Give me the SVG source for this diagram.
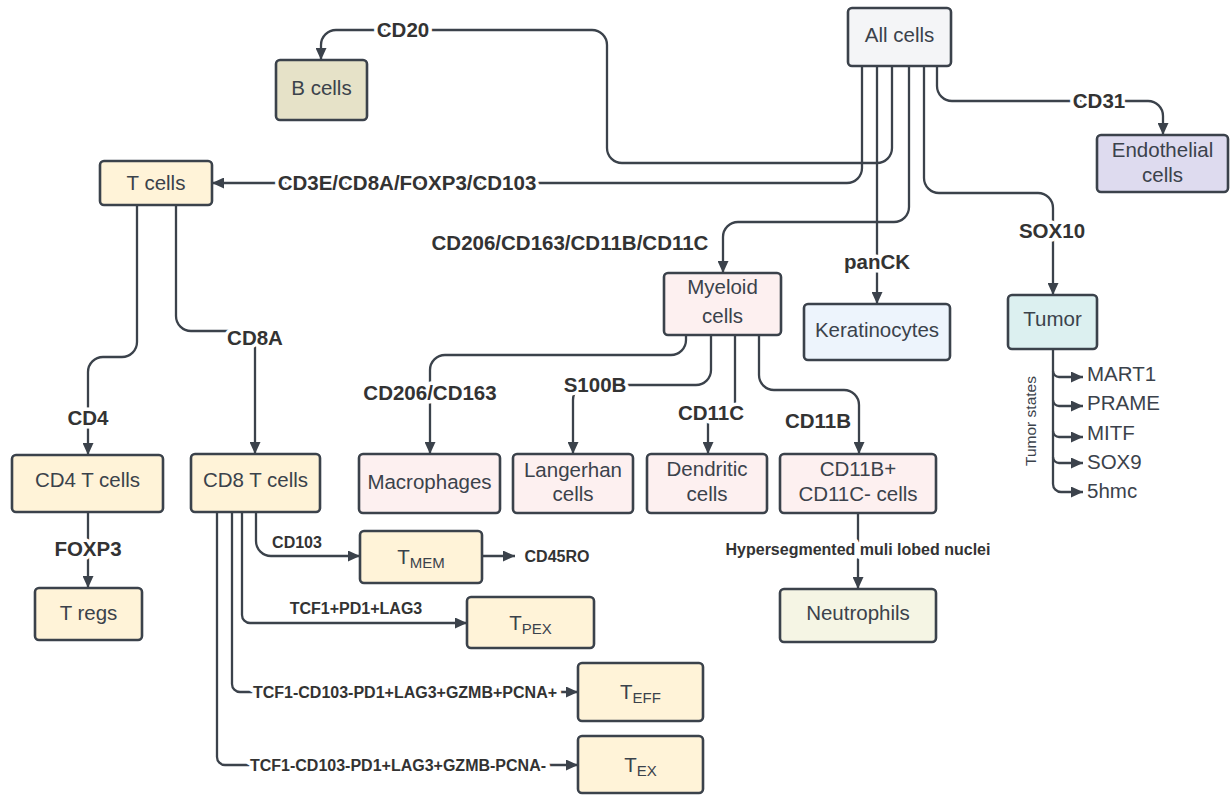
<svg xmlns="http://www.w3.org/2000/svg" width="1230" height="795" viewBox="0 0 1230 795">
<defs>
<marker id="ah" viewBox="0 0 12 11" refX="12" refY="5.5" markerWidth="12" markerHeight="11" markerUnits="userSpaceOnUse" orient="auto"><path d="M0,0 L12,5.5 L0,11 z" fill="#3b424b"/></marker>
<style>
.box{stroke:#3b424b;stroke-width:2.6}
.nt{font-family:"Liberation Sans",Arial,sans-serif;font-size:20.5px;fill:#3b424b;text-anchor:middle}
.lb{font-family:"Liberation Sans",Arial,sans-serif;font-size:20.5px;font-weight:bold;fill:#333;text-anchor:middle;stroke:#fff;stroke-width:7;paint-order:stroke;stroke-linejoin:round}
.ls{font-family:"Liberation Sans",Arial,sans-serif;font-size:16px;font-weight:bold;fill:#333;text-anchor:middle;stroke:#fff;stroke-width:9;paint-order:stroke;stroke-linejoin:round}
.c{fill:none;stroke:#3b424b;stroke-width:2.3}
.a{marker-end:url(#ah)}
.grey{fill:#f4f5f7}.beige{fill:#e6e2c8}.yel{fill:#fff3d8}.lav{fill:#dedbef}.pink{fill:#fdf0f0}.blue{fill:#edf4fc}.teal{fill:#dcf0f0}.grn{fill:#f5f5e4}
</style>
</defs>
<rect width="1230" height="795" fill="#fff"/>
<g id="connectors">
<path class="c a" d="M892,66 V148 A15,15 0 0 1 877,163 H622 A15,15 0 0 1 607,148 V45 A15,15 0 0 0 592,30 H336 A15,15 0 0 0 321,45 V60"/>
<path class="c a" d="M862,66 V168 A15,15 0 0 1 847,183 H212"/>
<path class="c a" d="M877,66 V304"/>
<path class="c a" d="M909,66 V207 A15,15 0 0 1 894,222 H738 A15,15 0 0 0 723,237 V273"/>
<path class="c a" d="M924,66 V178 A15,15 0 0 0 939,193 H1038 A15,15 0 0 1 1053,208 V295"/>
<path class="c a" d="M937,66 V86 A15,15 0 0 0 952,101 H1148 A15,15 0 0 1 1163,116 V135"/>
<path class="c a" d="M137,205 V342 A15,15 0 0 1 122,357 H103 A15,15 0 0 0 88,372 V455"/>
<path class="c a" d="M176,205 V316 A15,15 0 0 0 191,331 H240 A15,15 0 0 1 255,346 V454"/>
<path class="c a" d="M88,512 V588"/>
<path class="c a" d="M256,512 V541 A15,15 0 0 0 271,556 H360"/>
<path class="c a" d="M482,556 H515"/>
<path class="c a" d="M242,512 V615 A8,8 0 0 0 250,623 H467"/>
<path class="c a" d="M232,512 V684 A8,8 0 0 0 240,692 H578"/>
<path class="c a" d="M217,512 V757 A8,8 0 0 0 225,765 H578"/>
<path class="c a" d="M686,335 V340 A15,15 0 0 1 671,355 H445 A15,15 0 0 0 430,370 V454"/>
<path class="c a" d="M711,335 V370 A15,15 0 0 1 696,385 H588 A15,15 0 0 0 573,400 V454"/>
<path class="c a" d="M735,335 V408 H708 V454"/>
<path class="c a" d="M759,335 V375 A15,15 0 0 0 774,390 H844 A15,15 0 0 1 859,405 V454"/>
<path class="c a" d="M858,513 V589"/>
<path class="c" d="M1053,349 V484"/>
<path class="c a" d="M1053,484 A8,8 0 0 0 1061,492 H1083"/>
<path class="c a" d="M1053,371 A6,6 0 0 0 1059,377 H1083"/>
<path class="c a" d="M1053,400 A6,6 0 0 0 1059,406 H1083"/>
<path class="c a" d="M1053,431 A6,6 0 0 0 1059,437 H1083"/>
<path class="c a" d="M1053,457 A6,6 0 0 0 1059,463 H1083"/>
<text class="lb" x="403" y="37">CD20</text>
<text class="lb" x="407" y="190">CD3E/CD8A/FOXP3/CD103</text>
<text class="lb" x="570" y="250">CD206/CD163/CD11B/CD11C</text>
<text class="lb" x="877" y="269">panCK</text>
<text class="lb" x="1052" y="238">SOX10</text>
<text class="lb" x="1099" y="108">CD31</text>
<text class="lb" x="88" y="425">CD4</text>
<text class="lb" x="255" y="345">CD8A</text>
<text class="lb" x="88" y="556">FOXP3</text>
<text class="lb" x="430" y="400">CD206/CD163</text>
<text class="lb" x="595" y="392">S100B</text>
<text class="lb" x="711" y="420">CD11C</text>
<text class="lb" x="818" y="428">CD11B</text>
<text class="ls" x="297" y="548">CD103</text>
<text class="ls" x="557" y="562">CD45RO</text>
<text class="ls" x="356" y="614">TCF1+PD1+LAG3</text>
<text class="ls" x="405" y="698">TCF1-CD103-PD1+LAG3+GZMB+PCNA+</text>
<text class="ls" x="398" y="771">TCF1-CD103-PD1+LAG3+GZMB-PCNA-</text>
<text class="ls" x="858" y="555">Hypersegmented muli lobed nuclei</text>
<g font-family="Liberation Sans, Arial, sans-serif" font-size="20.5" fill="#3b424b">
<text x="1087" y="381">MART1</text>
<text x="1087" y="410">PRAME</text>
<text x="1087" y="440">MITF</text>
<text x="1087" y="469">SOX9</text>
<text x="1087" y="498">5hmc</text>
</g>
<text transform="translate(1036,421) rotate(-90)" font-family="Liberation Sans, Arial, sans-serif" font-size="15.5" fill="#3b424b" text-anchor="middle">Tumor states</text>
</g>
<g id="all-cells"><rect class="box grey" x="848" y="8" width="103" height="58" rx="4"/><text class="nt" x="899.5" y="42">All cells</text></g>
<g id="b-cells"><rect class="box beige" x="276" y="60" width="91" height="60" rx="4"/><text class="nt" x="321.5" y="95">B cells</text></g>
<g id="endothelial"><rect class="box lav" x="1097" y="135" width="131" height="57" rx="4"/><text class="nt" x="1162.5" y="157">Endothelial</text><text class="nt" x="1162.5" y="182">cells</text></g>
<g id="t-cells"><rect class="box yel" x="100" y="161" width="112" height="44" rx="4"/><text class="nt" x="156" y="190">T cells</text></g>
<g id="myeloid"><rect class="box pink" x="664" y="273" width="117" height="62" rx="4"/><text class="nt" x="722.5" y="294">Myeloid</text><text class="nt" x="722.5" y="323">cells</text></g>
<g id="keratinocytes"><rect class="box blue" x="804" y="304" width="146" height="56" rx="4"/><text class="nt" x="877" y="337">Keratinocytes</text></g>
<g id="tumor"><rect class="box teal" x="1008" y="295" width="89" height="54" rx="4"/><text class="nt" x="1052.5" y="326">Tumor</text></g>
<g id="cd4-t-cells"><rect class="box yel" x="12" y="455" width="151" height="57" rx="4"/><text class="nt" x="87.5" y="487">CD4 T cells</text></g>
<g id="cd8-t-cells"><rect class="box yel" x="191" y="454" width="129" height="58" rx="4"/><text class="nt" x="255.5" y="487">CD8 T cells</text></g>
<g id="t-regs"><rect class="box yel" x="35" y="588" width="107" height="52" rx="4"/><text class="nt" x="88.5" y="620">T regs</text></g>
<g id="macrophages"><rect class="box pink" x="359" y="454" width="141" height="59" rx="4"/><text class="nt" x="429.5" y="489">Macrophages</text></g>
<g id="langerhan"><rect class="box pink" x="513" y="454" width="120" height="59" rx="4"/><text class="nt" x="573" y="477">Langerhan</text><text class="nt" x="573" y="501">cells</text></g>
<g id="dendritic"><rect class="box pink" x="647" y="454" width="120" height="59" rx="4"/><text class="nt" x="707" y="476">Dendritic</text><text class="nt" x="707" y="501">cells</text></g>
<g id="cd11b-cells"><rect class="box pink" x="780" y="454" width="156" height="59" rx="4"/><text class="nt" x="858" y="476">CD11B+</text><text class="nt" x="858" y="501">CD11C- cells</text></g>
<g id="neutrophils"><rect class="box grn" x="780" y="589" width="156" height="53" rx="4"/><text class="nt" x="858" y="620">Neutrophils</text></g>
<g id="t-mem"><rect class="box yel" x="360" y="531" width="122" height="52" rx="4"/><text class="nt" x="421" y="564" font-size="22">T<tspan font-size="15" dy="4">MEM</tspan></text></g>
<g id="t-pex"><rect class="box yel" x="467" y="597" width="127" height="51" rx="4"/><text class="nt" x="530.5" y="630" font-size="22">T<tspan font-size="15" dy="4">PEX</tspan></text></g>
<g id="t-eff"><rect class="box yel" x="578" y="663" width="125" height="58" rx="4"/><text class="nt" x="640.5" y="699" font-size="22">T<tspan font-size="15" dy="4">EFF</tspan></text></g>
<g id="t-ex"><rect class="box yel" x="578" y="736" width="125" height="57" rx="4"/><text class="nt" x="640.5" y="772" font-size="22">T<tspan font-size="15" dy="4">EX</tspan></text></g>
</svg>
